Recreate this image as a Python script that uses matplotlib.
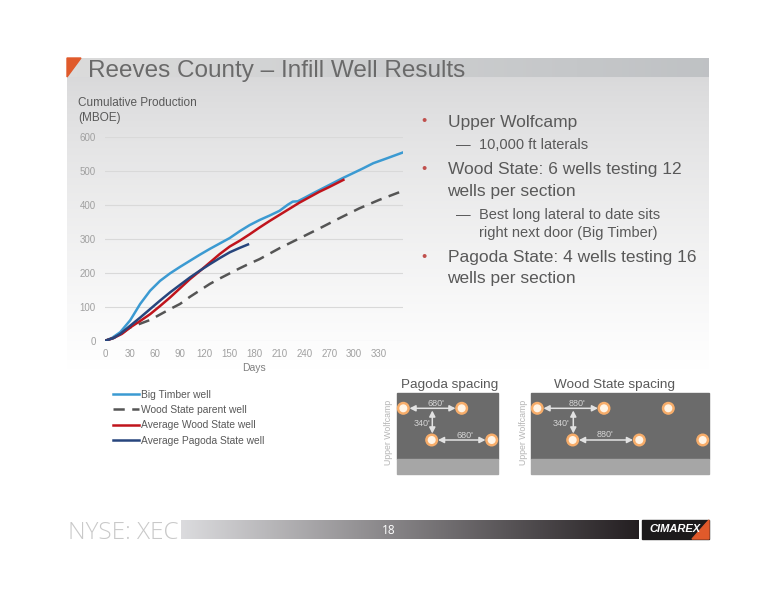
import numpy as np
import matplotlib
matplotlib.use("Agg")
import matplotlib.pyplot as plt
from matplotlib.patches import Rectangle, Polygon, Circle

plt.rcParams["font.family"] = ["Liberation Sans", "DejaVu Sans"]

# ---- data ----
big_timber_days = [0, 8, 18, 30, 42, 54, 66, 78, 90, 102, 114, 126, 138, 150, 162, 174,
                   186, 198, 210, 220, 226, 232, 240, 250, 262, 274, 286, 298, 310, 323, 339, 358]
big_timber_boe = [0, 8, 25, 60, 108, 147, 176, 198, 217, 235, 253, 270, 286, 302, 322, 340,
                  355, 368, 382, 400, 409, 410, 420, 433, 448, 463, 478, 492, 506, 522, 536, 553]

parent_days = [0, 10, 20, 30, 42, 54, 66, 78, 90, 102, 114, 126, 138, 150, 162, 174, 186,
               198, 210, 234, 258, 282, 306, 330, 358]
parent_boe = [0, 8, 22, 39, 50, 61, 77, 93, 108, 129, 148, 167, 183, 198, 213, 227, 240,
              256, 272, 301, 330, 360, 389, 414, 440]

wood_days = [0, 10, 20, 30, 42, 54, 66, 78, 90, 102, 114, 126, 138, 150, 162, 174, 186,
             198, 210, 222, 234, 246, 258, 270, 287]
wood_boe = [0, 8, 20, 39, 58, 78, 102, 127, 154, 181, 205, 230, 255, 277, 294, 313, 333,
            352, 370, 388, 406, 422, 438, 452, 473]

pagoda_days = [0, 10, 18, 30, 42, 54, 66, 78, 90, 102, 114, 126, 138, 150, 162, 172]
pagoda_boe = [0, 8, 20, 44, 68, 93, 118, 142, 164, 186, 206, 225, 243, 260, 273, 283]

series_names = ["Big Timber well", "Wood State parent well",
                "Average Wood State well", "Average Pagoda State well"]
day_ticks = list(range(0, 331, 30))
boe_ticks = list(range(0, 601, 100))

W, H = 776, 600
fig = plt.figure(figsize=(W / 100, H / 100), dpi=100)
fig.patch.set_facecolor("white")

# background axes in pixel coordinates
bg = fig.add_axes([0, 0, 1, 1])
bg.set_xlim(0, W)
bg.set_ylim(H, 0)
bg.axis("off")

# grey panel with vertical fade
n = 200
t = np.linspace(0, 1, n)[:, None]
top = np.array([0.85, 0.85, 0.855])
grad = top + (1 - top) * np.clip(t, 0, 1) ** 0.8
panel = np.repeat(grad[:, None, :], 2, axis=1)
bg.imshow(panel, extent=(67, 709, 370, 77), aspect="auto", origin="upper", zorder=0)

# title band, horizontal gradient
tb = np.linspace(0, 1, 200)[None, :, None]
c0 = np.array([0.86, 0.86, 0.86])
c1 = np.array([0.75, 0.76, 0.77])
band = c0 + (c1 - c0) * tb
bg.imshow(band, extent=(67, 709, 77, 58), aspect="auto", origin="upper", zorder=0)
bg.add_patch(Polygon([(67, 58), (81, 58), (67, 77)], closed=True, color="#e05a2b", zorder=2))
bg.text(88, 76.5, "Reeves County \u2013 Infill Well Results", fontsize=17.5,
        color="#6a6a6a", va="baseline", ha="left")

bg.set_xlim(0, W)
bg.set_ylim(H, 0)

# y axis title
bg.text(78, 102.5, "Cumulative Production", fontsize=8.5, color="#595959", va="center")
bg.text(78, 118.5, "(MBOE)", fontsize=8.5, color="#595959", va="center")

# ---- chart ----
ax = fig.add_axes([105.3 / W, (H - 340.7) / H, (402.7 - 105.3) / W, 204 / H])
ax.patch.set_alpha(0)
ax.plot(big_timber_days, big_timber_boe, color="#3b9ad2", lw=1.8, label=series_names[0])
ax.plot(parent_days, parent_boe, color="#555555", lw=1.8, dashes=(4.5, 3),
        label=series_names[1])
ax.plot(wood_days, wood_boe, color="#c0141c", lw=1.8, label=series_names[2])
ax.plot(pagoda_days, pagoda_boe, color="#27457d", lw=1.8, label=series_names[3])
ax.set_xlim(0, 358.5)
ax.set_ylim(0, 600)
ax.set_xticks(day_ticks)
ax.set_yticks(boe_ticks)
ax.grid(axis="y", color="#d9d9d9", lw=0.8)
ax.set_axisbelow(True)
for s in ax.spines.values():
    s.set_visible(False)
ax.tick_params(length=0, labelsize=7, colors="#a0a0a0")
ax.tick_params(axis="y", pad=7)
ax.tick_params(axis="x", pad=6)
ax.set_xlabel("Days", fontsize=7.5, color="#7f7f7f", labelpad=3)

leg = ax.legend(loc="upper left", bbox_to_anchor=(113 / W, 1 - 389.5 / H),
                bbox_transform=fig.transFigure, frameon=False, fontsize=7.4,
                handlelength=2.5, handletextpad=0.2, labelspacing=0.52,
                borderpad=0, borderaxespad=0)
for txt in leg.get_texts():
    txt.set_color("#595959")

# ---- bullets ----
bullet_col = "#c0504d"
txt_col = "#595959"
main_fs = 12.5
sub_fs = 10.5
for y in [121.5, 169, 256.5]:
    bg.text(423.5, y, "\u2022", fontsize=10.5, color=bullet_col, ha="center", va="center")
bg.text(447.5, 126.7, "Upper Wolfcamp", fontsize=main_fs, color=txt_col, va="baseline")
bg.text(456.5, 149, "\u2014", fontsize=sub_fs, color=txt_col, va="baseline")
bg.text(479, 149, "10,000 ft laterals", fontsize=sub_fs, color=txt_col, va="baseline")
bg.text(447.5, 174, "Wood State: 6 wells testing 12", fontsize=main_fs, color=txt_col,
        va="baseline")
bg.text(447.5, 195.7, "wells per section", fontsize=main_fs, color=txt_col, va="baseline")
bg.text(456.5, 219, "\u2014", fontsize=sub_fs, color=txt_col, va="baseline")
bg.text(479, 219, "Best long lateral to date sits", fontsize=sub_fs, color=txt_col,
        va="baseline")
bg.text(479, 237.3, "right next door (Big Timber)", fontsize=sub_fs, color=txt_col,
        va="baseline")
bg.text(447.5, 262.3, "Pagoda State: 4 wells testing 16", fontsize=main_fs, color=txt_col,
        va="baseline")
bg.text(447.5, 283.3, "wells per section", fontsize=main_fs, color=txt_col, va="baseline")

# ---- spacing diagrams ----
def well(x, y):
    bg.add_patch(Circle((x, y), 5.8, color="#f7ad6a", zorder=4))
    bg.add_patch(Circle((x, y), 3.3, color="#fff4e6", zorder=5))


def arrow(x0, y0, x1, y1):
    bg.annotate("", xy=(x1, y1), xytext=(x0, y0), zorder=4,
                arrowprops=dict(arrowstyle="<|-|>,head_length=0.35,head_width=0.18",
                                color="#e2e2e2", lw=1.1, shrinkA=0, shrinkB=0))


def lab(x, y, s):
    bg.text(x, y, s, fontsize=6.5, color="#d6d6d6", ha="center", va="center", zorder=5)


for (x0, x1, name, cx, lx) in [(396.7, 497.7, "Pagoda spacing", 450, 388.5),
                              (531, 709.3, "Wood State spacing", 615, 523)]:
    bg.add_patch(Rectangle((x0, 392.7), x1 - x0, 66.6, color="#6b6b6b", zorder=3))
    bg.add_patch(Rectangle((x0, 459.3), x1 - x0, 15, color="#a6a6a6", zorder=3))
    bg.text(cx, 388, name, fontsize=9.7, color=txt_col, ha="center", va="baseline")
    bg.text(lx, 432, "Upper Wolfcamp", fontsize=6.3, color="#b4b4b4", rotation=90,
            ha="center", va="center")

for x, y in [(403.3, 408.3), (461.7, 408.3), (431.7, 440), (491.7, 440)]:
    well(x, y)
arrow(409.5, 408.3, 455.5, 408.3)
arrow(432.3, 410.5, 432.3, 433.5)
arrow(438, 440, 485.5, 440)
lab(436, 403, "680'")
lab(422.5, 423.3, "340'")
lab(465, 435.5, "680'")

for x, y in [(537.3, 408.3), (604, 408.3), (668.3, 408.3),
             (572.7, 440), (639.3, 440), (702.7, 440)]:
    well(x, y)
arrow(543.5, 408.3, 598, 408.3)
arrow(573.3, 410.5, 573.3, 433.5)
arrow(579, 440, 633, 440)
lab(577, 403, "880'")
lab(561.5, 423.3, "340'")
lab(605, 434.5, "880'")

# ---- footer ----
fb = np.linspace(0, 1, 300)[None, :, None]
f0 = np.array([0.86, 0.86, 0.87])
f1 = np.array([0.14, 0.12, 0.13])
foot = f0 + (f1 - f0) * fb
bg.imshow(foot, extent=(181, 639, 539, 520), aspect="auto", origin="upper", zorder=1)
bg.add_patch(Rectangle((642, 520), 67, 19, color="#1c1a1b", zorder=2))
bg.add_patch(Polygon([(692, 539), (709, 520), (709, 539)], closed=True,
                     color="#e05a2b", zorder=3))
bg.text(675, 529.5, "CIMAREX", fontsize=8, color="white", fontweight="bold",
        style="italic", ha="center", va="center", zorder=4)
bg.text(68, 539, "NYSE: XEC", fontsize=17.5, color="#c9c9c9", va="baseline",
        family=["Open Sans", "DejaVu Sans"], fontweight="light")
bg.text(389, 530, "18", fontsize=8.5, color="white", ha="center", va="center",
        family=["Open Sans", "DejaVu Sans"], zorder=4)

bg.set_xlim(0, W)
bg.set_ylim(H, 0)

fig.savefig("out.png", dpi=100)
